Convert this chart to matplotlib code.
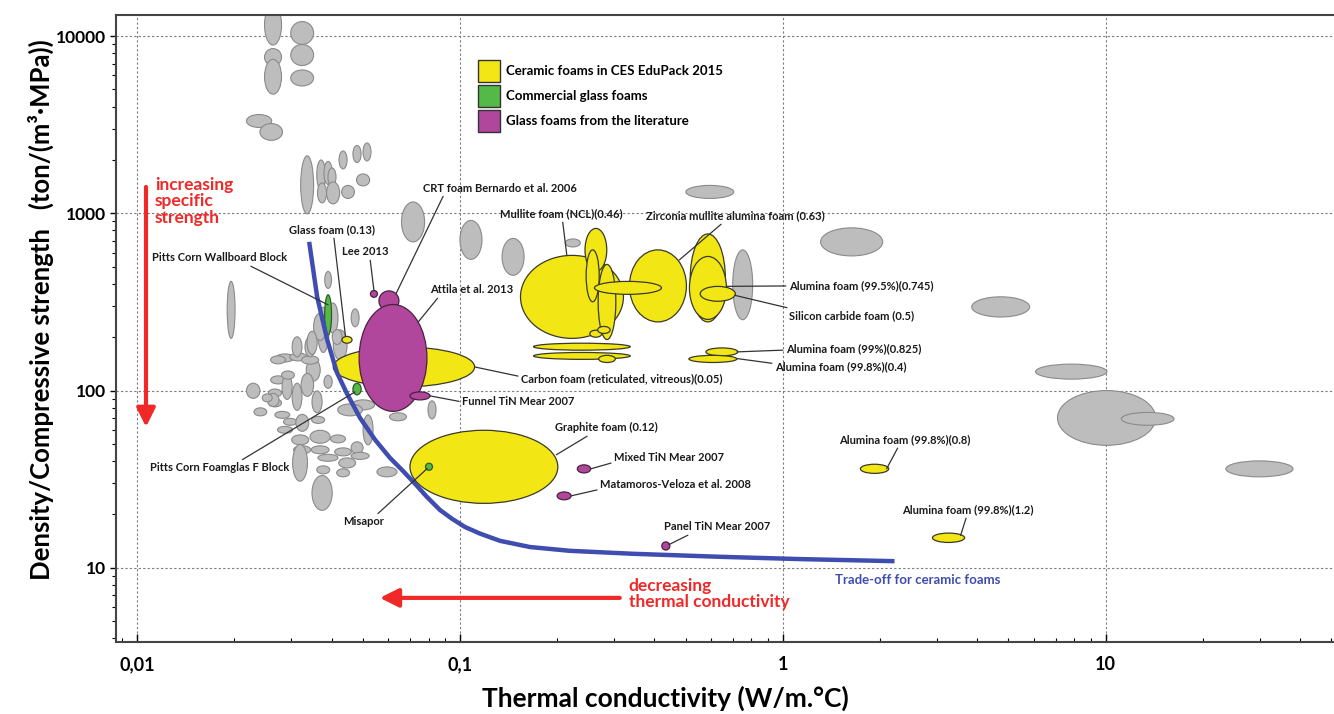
import numpy as np
import matplotlib
matplotlib.use("Agg")
import matplotlib.pyplot as plt
from matplotlib.patches import Ellipse, Patch
from matplotlib.ticker import FixedLocator, FixedFormatter, LogLocator, NullFormatter

plt.rcParams['font.family'] = ['Lato', 'DejaVu Sans']

# Ranges: thermal conductivity (W/m.°C) and density/strength (ton/(m3.MPa))
gray_k = [(0.0248, 0.0280), (0.0248, 0.0280), (0.0248, 0.0280), (0.0299, 0.0352), (0.0299, 0.0352),
          (0.0299, 0.0352), (0.0218, 0.0261), (0.0240, 0.0282), (0.0321, 0.0352), (0.0360, 0.0383),
          (0.0379, 0.0402), (0.0390, 0.0413), (0.0386, 0.0424), (0.0362, 0.0386), (0.0422, 0.0447),
          (0.0466, 0.0494), (0.0501, 0.0530), (0.0430, 0.0471), (0.0478, 0.0525), (0.0659, 0.0777),
          (0.100, 0.117), (0.135, 0.158), (0.212, 0.236), (0.501, 0.705), (1.31, 2.04),
          (0.700, 0.807), (3.85, 5.82), (6.07, 10.1), (7.10, 14.3), (11.2, 16.3),
          (23.6, 38.1), (0.0190, 0.0201), (0.0381, 0.0400), (0.0460, 0.0487), (0.0796, 0.0843),
          (0.0348, 0.0402), (0.0218, 0.0240), (0.0501, 0.0538), (0.0553, 0.0638), (0.0605, 0.0683),
          (0.0461, 0.0544),
          # dense cluster of glass / polymer foams
          (0.0362, 0.0393), (0.0390, 0.0419), (0.0405, 0.0447), (0.0418, 0.0499), (0.0334, 0.0369),
          (0.0269, 0.0306), (0.0297, 0.0335), (0.0323, 0.0365), (0.0302, 0.0324), (0.0331, 0.0356),
          (0.0259, 0.0288), (0.0255, 0.0280), (0.0255, 0.0280), (0.0230, 0.0252), (0.0281, 0.0302),
          (0.0302, 0.0324), (0.0322, 0.0352), (0.0379, 0.0402), (0.0348, 0.0374), (0.0347, 0.0381),
          (0.0267, 0.0297), (0.0284, 0.0312), (0.0272, 0.0303), (0.0310, 0.0340), (0.0301, 0.0340),
          (0.0343, 0.0396), (0.0397, 0.0442), (0.0305, 0.0345), (0.0346, 0.0393), (0.0409, 0.0461),
          (0.0460, 0.0501), (0.0460, 0.0523), (0.0421, 0.0475), (0.0363, 0.0419), (0.0303, 0.0337),
          (0.0415, 0.0455), (0.0360, 0.0395), (0.0253, 0.0275), (0.0280, 0.0307), (0.0244, 0.0262),
          (0.0352, 0.0386), (0.0402, 0.0431), (0.0336, 0.0361), (0.0259, 0.0288)]
gray_s = [(8900, 15000), (6800, 8500), (4700, 7400), (8970, 12080), (6820, 8970),
          (5230, 6440), (3050, 3610), (2580, 3210), (993, 2110), (1355, 2000),
          (1455, 1963), (1427, 1803), (1130, 1503), (1145, 1484), (1780, 2249),
          (1936, 2415), (1975, 2495), (1213, 1437), (1427, 1668), (690, 1159),
          (550, 912), (447, 722), (646, 717), (1213, 1437), (575, 828),
          (251, 622), (260, 338), (116, 141), (49.1, 100), (63.7, 75.3),
          (32.6, 40.1), (197, 413), (377, 470), (229, 289), (69.2, 87.5),
          (21.1, 33.2), (90.4, 110), (49.4, 72.9), (32.6, 37.1), (67.5, 74.9),
          (77.8, 88.6),
          (164, 295), (211, 312), (149, 220), (72.0, 84.1), (113, 151),
          (145, 161), (147, 163), (141, 157), (155, 201), (155, 201),
          (109, 121), (92.1, 102), (80.9, 89.8), (72.0, 79.9), (89.2, 123),
          (77.3, 110), (92.7, 125), (103, 122), (74.9, 99.6), (65.3, 71.5),
          (69.7, 76.3), (63.7, 69.7), (57.4, 62.8), (58.9, 73.4), (49.4, 56.2),
          (50.4, 59.7), (50.7, 56.2), (44.0, 48.8), (44.0, 48.8), (42.8, 47.5),
          (44.0, 51.4), (40.9, 44.8), (36.6, 41.7), (39.9, 43.7), (30.8, 49.7),
          (32.6, 36.2), (33.9, 37.6), (81.4, 96.4), (116, 129), (86.4, 95.8),
          (192, 273), (182, 221), (160, 216), (141.5, 157)]

# Ceramic foams in CES EduPack 2015
yellow_k = [(0.0405, 0.111), (0.0431, 0.0463), (0.0700, 0.201), (0.154, 0.321), (0.244, 0.285),
            (0.246, 0.270), (0.268, 0.304), (0.335, 0.503), (0.261, 0.421), (0.2525, 0.275),
            (0.267, 0.292), (0.517, 0.664), (0.514, 0.669), (0.555, 0.713), (0.169, 0.337),
            (0.169, 0.337), (0.269, 0.303), (0.578, 0.726), (0.512, 0.721), (1.74, 2.13),
            (2.91, 3.66)]
yellow_s = [(105, 176), (185, 202), (23.1, 59.7), (197, 579), (470, 822),
            (317, 622), (194, 515), (244, 622), (349, 413), (200, 219),
            (210, 230), (244, 765), (252, 571), (319, 387), (169, 185),
            (150, 164), (144, 158), (157, 174), (144, 158), (34.1, 38.4),
            (13.9, 15.7)]

# Commercial glass foams
green_k = [(0.0381, 0.0400), (0.0466, 0.0494), (0.0782, 0.0822)]
green_s = [(206, 347), (94.6, 110), (35.5, 38.9)]

# Glass foams from the literature
purple_k = [(0.0561, 0.0647), (0.0487, 0.0790), (0.0528, 0.0555), (0.0700, 0.0808),
            (0.231, 0.254), (0.200, 0.221), (0.422, 0.447)]
purple_s = [(282, 365), (76.3, 306), (336, 367), (88.6, 98.3),
            (34.3, 38.1), (24.2, 26.8), (12.6, 14.0)]

# trade-off line for ceramic foams
trade_k = [0.0341, 0.0361, 0.0388, 0.0416, 0.0447, 0.0490, 0.0546, 0.0607, 0.0661, 0.0726,
           0.0790, 0.0867, 0.0945, 0.1036, 0.1153, 0.133, 0.1647, 0.219, 0.343, 0.638,
           1.13, 2.22]
trade_s = [690, 338, 193, 126, 95.8, 70.2, 52.7, 41.7, 35.7, 29.8,
           25.1, 21.2, 18.9, 17.0, 15.6, 14.2, 13.1, 12.47, 12.0, 11.54,
           11.2, 10.9]

# labels: text, group, index, text position (axes fraction), line start on text, anchor on bubble
labels = [
    ("CRT foam Bernardo et al. 2006", "purple", 0, (0.2521, 0.7240), (0.14, 0), (0.7, 0.7)),
    ("Glass foam (0.13)", "yellow", 1, (0.1420, 0.6571), (0.52, 0), (-0.3, 1.0)),
    ("Lee 2013", "purple", 2, (0.1856, 0.6220), (0.6, 0), (0.0, 1.0)),
    ("Pitts Corn Wallboard Block", "green", 0, (0.0296, 0.6124), (0.69, 0), (0.0, 0.5)),
    ("Attila et al. 2013", "purple", 1, (0.2578, 0.5614), (0.12, 0), (0.74, 0.67)),
    ("Mullite foam (NCL)(0.46)", "yellow", 3, (0.3153, 0.6826), (0.51, 0), (-0.1, 1.0)),
    ("Zirconia mullite alumina foam (0.63)", "yellow", 7, (0.4351, 0.6794), (0.44, 0), (0.75, 0.72)),
    ("Alumina foam (99.5%)(0.745)", "yellow", 12, (0.5525, 0.5678), (0, 0.5), (1.0, 0.05)),
    ("Silicon carbide foam (0.5)", "yellow", 13, (0.5525, 0.5199), (0.08, 1), (0.97, -0.2)),
    ("Alumina foam (99%)(0.825)", "yellow", 17, (0.5501, 0.4673), (0, 0.4), (0.95, 0.0)),
    ("Alumina foam (99.8%)(0.4)", "yellow", 18, (0.5411, 0.4386), (0, 0.8), (1.0, 0.1)),
    ("Carbon foam (reticulated, vitreous)(0.05)", "yellow", 0, (0.3325, 0.4195), (0, 0.7), (1.0, 0.0)),
    ("Funnel TiN Mear 2007", "purple", 3, (0.2841, 0.3828), (0, 0.5), (1.0, 0.0)),
    ("Graphite foam (0.12)", "yellow", 2, (0.3604, 0.3413), (0.36, 0), (0.98, 0.33)),
    ("Mixed TiN Mear 2007", "purple", 4, (0.4089, 0.2935), (0, 0.1), (1.0, 0.0)),
    ("Matamoros-Veloza et al. 2008", "purple", 5, (0.3974, 0.2504), (0, 0.1), (1.0, 0.0)),
    ("Panel TiN Mear 2007", "purple", 6, (0.4499, 0.1834), (0.28, 0), (0.7, 0.3)),
    ("Alumina foam (99.8%)(0.8)", "yellow", 19, (0.5936, 0.3222), (0.46, 0), (0.85, 0.0)),
    ("Alumina foam (99.8%)(1.2)", "yellow", 20, (0.6461, 0.2105), (0.49, 0), (0.75, 0.5)),
    ("Pitts Corn Foamglas F Block", "green", 1, (0.0279, 0.2775), (0.63, 1), (-0.5, -0.5)),
    ("Misapor", "green", 2, (0.1864, 0.1914), (0.78, 1), (-0.5, -0.5)),
]

YELLOW = '#f2e614'
GREEN = '#55b947'
PURPLE = '#b0479c'
GRAY = '#bdbdbd'
BLUE = '#3f4db0'
RED = '#f02828'

groups = {"yellow": (yellow_k, yellow_s), "green": (green_k, green_s), "purple": (purple_k, purple_s)}


def bubble_geom(kr, sr):
    lk = np.log10(kr)
    ls = np.log10(sr)
    return lk.mean(), ls.mean(), lk[1] - lk[0], ls[1] - ls[0]


def add_bubbles(ax, k_ranges, s_ranges, face, edge, lw, z):
    # ellipses drawn in the log10 space of the axes, so they stay true ellipses
    trans = ax.transLimits + ax.transAxes
    for kr, sr in zip(k_ranges, s_ranges):
        cx, cy, w, h = bubble_geom(kr, sr)
        ax.add_patch(Ellipse((cx, cy), w, h, transform=trans, facecolor=face,
                             edgecolor=edge, linewidth=lw, zorder=z))


fig = plt.figure(figsize=(13.34, 7.14), dpi=100)
ax = fig.add_axes([0.087, 0.101, 0.9125, 0.878])
ax.set_xscale('log')
ax.set_yscale('log')
ax.set_xlim(0.0086, 50.8)
ax.set_ylim(3.82, 13150)

add_bubbles(ax, gray_k, gray_s, GRAY, '#8a8a8a', 0.8, 2)
add_bubbles(ax, yellow_k, yellow_s, YELLOW, '#3a3a2a', 0.9, 3)
add_bubbles(ax, green_k, green_s, GREEN, '#2e5a26', 0.9, 4)
add_bubbles(ax, purple_k, purple_s, PURPLE, '#4a2040', 0.9, 4)

ax.plot(trade_k, trade_s, color=BLUE, lw=3.2, zorder=6, solid_capstyle='butt',
        solid_joinstyle='round')
ax.text(0.5903, 0.0989, "Trade-off for ceramic foams", transform=ax.transAxes, color=BLUE,
        fontsize=9.5, fontweight='bold', va='center', ha='left')

for text, grp, idx, tpos, rel, anc in labels:
    kr, sr = groups[grp]
    cx, cy, w, h = bubble_geom(kr[idx], sr[idx])
    xy = (10 ** (cx + anc[0] * w / 2), 10 ** (cy + anc[1] * h / 2))
    ax.annotate(text, xy=xy, xycoords='data', xytext=tpos, textcoords='axes fraction',
                fontsize=8, fontweight='bold', color='#1a1a1a', ha='left', va='center', zorder=7,
                arrowprops=dict(arrowstyle='-', color='#333333', lw=0.9, relpos=rel,
                                shrinkA=0, shrinkB=0))

# red hint arrows
ax.annotate("", xy=(0.0246, 0.3429), xytext=(0.0246, 0.7257), xycoords='axes fraction',
            arrowprops=dict(arrowstyle='-|>', color=RED, lw=3, mutation_scale=28,
                            shrinkA=0, shrinkB=0))
ax.text(0.032, 0.742, "increasing\nspecific\nstrength", transform=ax.transAxes, color=RED,
        fontsize=12.5, fontweight='bold', va='top', ha='left', linespacing=1.05)
ax.annotate("", xy=(0.2167, 0.0702), xytext=(0.4138, 0.0702), xycoords='axes fraction',
            arrowprops=dict(arrowstyle='-|>', color=RED, lw=3, mutation_scale=28,
                            shrinkA=0, shrinkB=0))
ax.text(0.4212, 0.0766, "decreasing\nthermal conductivity", transform=ax.transAxes, color=RED,
        fontsize=12.5, fontweight='bold', va='center', ha='left', linespacing=1.05)

# legend
handles = [Patch(facecolor=YELLOW, edgecolor='#333333', label='Ceramic foams in CES EduPack 2015'),
           Patch(facecolor=GREEN, edgecolor='#333333', label='Commercial glass foams'),
           Patch(facecolor=PURPLE, edgecolor='#333333', label='Glass foams from the literature')]
leg = ax.legend(handles=handles, loc='upper left', bbox_to_anchor=(0.2972, 0.928), frameon=False,
                prop={'weight': 'bold', 'size': 9.5}, handlelength=1.65, handleheight=2.2,
                handletextpad=0.5, labelspacing=0.2, borderpad=0, borderaxespad=0)
leg.set_zorder(8)

# axes styling
ax.xaxis.set_major_locator(FixedLocator([0.01, 0.1, 1, 10]))
ax.xaxis.set_major_formatter(FixedFormatter(["0,01", "0,1", "1", "10"]))
ax.yaxis.set_major_locator(FixedLocator([10, 100, 1000, 10000]))
ax.yaxis.set_major_formatter(FixedFormatter(["10", "100", "1000", "10000"]))
ax.xaxis.set_minor_locator(LogLocator(base=10, subs=np.arange(2, 10)))
ax.yaxis.set_minor_locator(LogLocator(base=10, subs=np.arange(2, 10)))
ax.xaxis.set_minor_formatter(NullFormatter())
ax.yaxis.set_minor_formatter(NullFormatter())
ax.tick_params(axis='x', which='major', direction='in', length=6, width=1, labelsize=13, pad=10)
ax.tick_params(axis='x', which='minor', direction='in', length=3, width=0.8)
ax.tick_params(axis='y', which='major', direction='out', length=4, width=1, labelsize=12.5, pad=3)
ax.tick_params(axis='y', which='minor', direction='out', length=3, width=0.8)
for lab in ax.get_xticklabels() + ax.get_yticklabels():
    lab.set_fontweight('bold')

ax.grid(which='major', linestyle=(0, (2, 2)), color='#7a7a7a', lw=0.8, zorder=1)
ax.set_axisbelow(True)
for side in ['left', 'bottom', 'top']:
    ax.spines[side].set_color('#444444')
    ax.spines[side].set_linewidth(1.5)
ax.spines['right'].set_visible(False)

ax.set_xlabel("Thermal conductivity (W/m.°C)", fontsize=19, fontweight='bold')
ax.set_ylabel("Density/Compressive strength   (ton/(m³·MPa))", fontsize=18.5, fontweight='bold')
ax.xaxis.set_label_coords(0.451, -0.07)
ax.yaxis.set_label_coords(-0.051, 0.53)

fig.savefig("out.png", dpi=100)
